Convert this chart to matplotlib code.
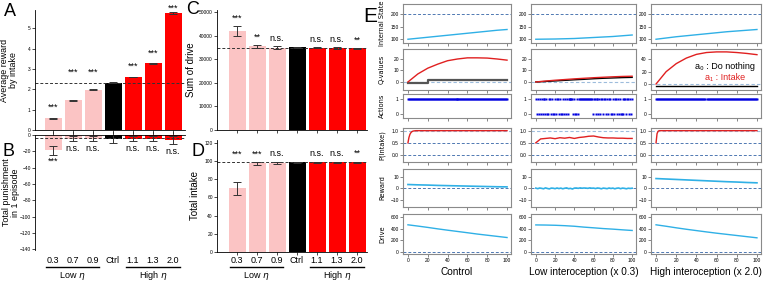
import matplotlib
matplotlib.use("Agg")
import matplotlib.pyplot as plt
from matplotlib.transforms import blended_transform_factory

plt.rcParams['font.family'] = ['Liberation Sans', 'DejaVu Sans']

W, H = 767, 281

# ---------------- data: bar panels ----------------
conds = ["0.3", "0.7", "0.9", "Ctrl", "1.1", "1.3", "2.0"]
bar_colors = ["#fbc4c4", "#fbc4c4", "#fbc4c4", "#000000", "#ff0000", "#ff0000", "#ff0000"]

rew_mean = [0.57, 1.47, 1.99, 2.32, 2.61, 3.27, 5.75]
rew_err = [0.03, 0.02, 0.02, 0.02, 0.02, 0.02, 0.03]
rew_ref = 2.33
rew_sig = ["***", "***", "***", "", "***", "***", "***"]

pun_mean = [-19, -4.5, -4.5, -5, -4.5, -4.5, -6.5]
pun_err = [5, 3, 3, 5, 3, 3, 5]
pun_ref = -4
pun_sig = ["***", "n.s.", "n.s.", "", "n.s.", "n.s.", "n.s."]

drv_mean = [42000, 35500, 35000, 35100, 35000, 34800, 34700]
drv_err = [2000, 600, 500, 300, 300, 300, 300]
drv_ref = 35000
drv_sig = ["***", "**", "n.s.", "", "n.s.", "n.s.", "**"]

int_mean = [70, 97.5, 98, 99, 99, 99, 99]
int_err = [7, 1.5, 1.2, 0.5, 0.5, 0.5, 0.5]
int_ref = 99
int_sig = ["***", "***", "n.s.", "", "n.s.", "n.s.", "**"]

groups = ["Low $\\eta$", "High $\\eta$"]

# ---------------- data: simulation panels ----------------
col_titles = ["Control", "Low interoception (x 0.3)", "High interoception (x 2.0)"]
row_labels = ["Internal State", "Q-values", "Actions", "P(Intake)", "Reward", "Drive"]

t_a = [0, 10, 20, 30, 40, 50, 60, 70, 80, 90, 100]
state_ctrl = [100, 104, 108, 112, 116, 120, 124, 128, 132, 136, 139]
state_low = [100, 100.5, 101, 102, 103, 105, 107, 109, 111, 114, 117]
state_high = [100, 105, 110, 114, 118, 122, 126, 130, 133, 136, 139]
state_set = 200

q1_ctrl = [0, 7, 12, 15.5, 18.5, 20, 21, 21, 20.8, 20, 19]
q0_ctrl_t = [0, 20, 20, 100]
q0_ctrl = [-0.5, -0.5, 2, 2]
q1_low = [0, 0.8, 1.5, 2.1, 2.7, 3.2, 3.7, 4.1, 4.5, 4.8, 5.0]
q0_low = [0, 0.4, 0.9, 1.4, 1.9, 2.3, 2.8, 3.2, 3.5, 3.8, 4.0]
q1_high = [0, 20, 33, 42, 48, 51, 52, 52, 51, 49.5, 47.5]
q0_high = [-3, -3, -3, -3, -3, -3, -3, -3, -3, -3, -3]

act_ctrl = [1] * 101
act_low = [int(c) for c in (
    "101010" "1" "01101001101" "00" "10110100101" "01011" "111" "0100101"
    "1111111111111" "0110110101101101011" "00" "10110101" "00" "10110110101")]
act_high = [1] * 101

p_ctrl_t = [0, 1, 2, 3, 4, 5, 6, 8, 100]
p_ctrl = [0.5, 0.72, 0.85, 0.92, 0.96, 0.98, 0.99, 1.0, 1.0]
p_low_t = [0, 5, 10, 15, 20, 25, 30, 35, 40, 45, 50, 55, 60, 65, 70, 75, 80, 85, 90, 95, 100]
p_low = [0.5, 0.66, 0.68, 0.70, 0.67, 0.71, 0.69, 0.72, 0.68, 0.72, 0.74, 0.77,
         0.78, 0.74, 0.71, 0.70, 0.70, 0.69, 0.69, 0.68, 0.68]
p_high_t = [0, 1, 2, 3, 100]
p_high = [0.5, 0.88, 0.97, 1.0, 1.0]

rwd_ctrl = [3.5, 3.2, 3.0, 2.7, 2.5, 2.3, 2.1, 1.9, 1.7, 1.5, 1.4]
rwd_low = [0.3, -0.2, 0.4, 0.1, -0.3, 0.5, 0.0, -0.4, 0.3, 0.2, -0.2, 0.4, -0.1,
           0.3, -0.3, 0.2, 0.5, -0.2, 0.1, -0.5, 0.3, 0.4, 0.1, 0.5, 0.2, 0.4,
           0.3, 0.1, 0.5, 0.2, 0.3, -0.1, 0.4, 0.2, -0.3, 0.3, 0.1, -0.2, 0.4,
           0.0, 0.3, -0.3, 0.2, 0.4, -0.2, 0.3, 0.1, -0.3, 0.2, 0.0, 0.2]
rwd_high = [8.8, 8.4, 8.0, 7.6, 7.2, 6.8, 6.4, 6.0, 5.7, 5.3, 5.0]

drive_ctrl = [470, 448, 425, 400, 377, 355, 333, 310, 290, 270, 250]
drive_low = [468, 466, 462, 455, 445, 430, 418, 405, 395, 383, 372]
drive_high = [470, 445, 418, 393, 370, 347, 325, 305, 285, 265, 245]

LINE = "#2fb0e6"
DASH_M = "#4f78b2"
DASH_L = "#9dbcdc"


def rect(l, t, r, b):
    return [l / W, 1 - b / H, (r - l) / W, (b - t) / H]


fig = plt.figure(figsize=(W / 100, H / 100), dpi=100)

xs = list(range(len(conds)))


def style_bar_axes(ax):
    for s in ["right", "top"]:
        ax.spines[s].set_visible(False)
    for s in ["left", "bottom"]:
        ax.spines[s].set_linewidth(0.6)
    ax.tick_params(axis='y', labelsize=3.5, length=2, width=0.5, pad=1)
    ax.tick_params(axis='x', length=2, width=0.5)


def draw_bars(ax, means, errs, ref):
    ax.bar(xs, means, width=0.85, color=bar_colors, linewidth=0)
    ax.errorbar(xs, means, yerr=errs, fmt='none', ecolor='#333333',
                elinewidth=0.7, capsize=3, capthick=0.7)
    ax.axhline(ref, ls='--', color='#333333', lw=0.7, dashes=(3, 2))


# Panel A
axA = fig.add_axes(rect(35, 10, 185, 130))
draw_bars(axA, rew_mean, rew_err, rew_ref)
axA.set_xlim(-0.9, 6.6)
axA.set_ylim(0, 5.9)
axA.set_yticks([0, 1, 2, 3, 4, 5])
axA.set_xticks(xs)
axA.set_xticklabels([])
style_bar_axes(axA)
for x, m, e, s in zip(xs, rew_mean, rew_err, rew_sig):
    y = m + e + 0.5
    if abs(y - rew_ref) < 0.35:
        y = rew_ref + 0.5
    y = min(y, 5.98)
    axA.text(x, y, s, ha='center', va='center', fontsize=6.5, clip_on=False)
axA.set_ylabel("Average reward\nby intake", fontsize=6.4, linespacing=1.0)
axA.yaxis.set_label_coords(-0.11, 0.5)

# Panel B
axB = fig.add_axes(rect(35, 135, 185, 250))
draw_bars(axB, pun_mean, pun_err, pun_ref)
axB.set_xlim(-0.9, 6.6)
axB.set_ylim(-141, 0)
axB.set_yticks(list(range(-140, 1, 20)))
axB.set_xticks(xs)
axB.set_xticklabels(conds, fontsize=6.5)
for s in ["right", "bottom"]:
    axB.spines[s].set_visible(False)
for s in ["left", "top"]:
    axB.spines[s].set_linewidth(0.6)
axB.tick_params(axis='y', labelsize=3.5, length=2, width=0.5, pad=1)
axB.tick_params(axis='x', top=True, bottom=False, labeltop=False, labelbottom=True,
                length=2, width=0.5, pad=2.5)
for x, m, e, s in zip(xs, pun_mean, pun_err, pun_sig):
    axB.text(x, m - e - 3, s, ha='center', va='top', fontsize=6.5)
axB.set_ylabel("Total punishment\nin 1 episode", fontsize=6.4, linespacing=1.0)
axB.yaxis.set_label_coords(-0.1, 0.5)

# Panel C
axC = fig.add_axes(rect(217, 10, 367, 130))
draw_bars(axC, drv_mean, drv_err, drv_ref)
axC.set_xlim(-1, 6.5)
axC.set_ylim(0, 51000)
axC.set_yticks([0, 10000, 20000, 30000, 40000, 50000])
axC.set_xticks(xs)
axC.set_xticklabels([])
style_bar_axes(axC)
for x, m, e, s in zip(xs, drv_mean, drv_err, drv_sig):
    y = max(m + e, drv_ref) + 3300
    axC.text(x, y, s, ha='center', va='center', fontsize=6.5)
axC.set_ylabel("Sum of drive", fontsize=7)
axC.yaxis.set_label_coords(-0.14, 0.5)

# Panel D
axD = fig.add_axes(rect(217, 140, 367, 252))
draw_bars(axD, int_mean, int_err, int_ref)
axD.set_xlim(-1, 6.5)
axD.set_ylim(0, 123.3)
axD.set_yticks([0, 20, 40, 60, 80, 100, 120])
axD.set_xticks(xs)
axD.set_xticklabels(conds, fontsize=6.5)
style_bar_axes(axD)
axD.tick_params(axis='x', pad=1)
for x, m, e, s in zip(xs, int_mean, int_err, int_sig):
    y = max(m + e, int_ref) + 9
    axD.text(x, y, s, ha='center', va='center', fontsize=6.5)
axD.set_ylabel("Total intake", fontsize=7)
axD.yaxis.set_label_coords(-0.115, 0.5)

# group underlines (pixel rows 267 / 276)
for ax, bottom_px, height_px in [(axB, 250, 115), (axD, 252, 112)]:
    yl = (bottom_px - 267) / height_px
    yt = (bottom_px - 276) / height_px
    tr = blended_transform_factory(ax.transData, ax.transAxes)
    for (x0, x1), g in zip([(-0.35, 2.3), (3.65, 6.35)], groups):
        ax.plot([x0, x1], [yl, yl], color='black', lw=1.0, transform=tr, clip_on=False)
        ax.text((x0 + x1) / 2, yt, g, ha='center', va='center', fontsize=6.5,
                transform=tr)

# ---------------- Panel E ----------------
cols = [(403, 511), (531, 636), (651, 761)]
rows = [(4, 43), (49, 90), (94, 118), (128, 162), (169, 207), (214, 254)]

states = [state_ctrl, state_low, state_high]
q1s = [q1_ctrl, q1_low, q1_high]
q0s = [(q0_ctrl_t, q0_ctrl), (t_a, q0_low), (t_a, q0_high)]
acts = [act_ctrl, act_low, act_high]
ps = [(p_ctrl_t, p_ctrl), (p_low_t, p_low), (p_high_t, p_high)]
rwds = [(t_a, rwd_ctrl), (list(range(0, 2 * len(rwd_low), 2)), rwd_low), (t_a, rwd_high)]
drives = [drive_ctrl, drive_low, drive_high]

for c, (l, r) in enumerate(cols):
    for ri, (t, b) in enumerate(rows):
        ax = fig.add_axes(rect(l, t, r, b))
        for s in ax.spines.values():
            s.set_color('#8a8a8a')
            s.set_linewidth(0.8)
        ax.tick_params(labelsize=3.5, length=2, width=0.5, color='#555555', pad=1)
        ax.set_xlim(-5, 104)
        ax.set_xticks([0, 20, 40, 60, 80, 100])
        if ri < 5:
            ax.set_xticklabels([])
        if ri == 0:
            ax.plot(t_a, states[c], color=LINE, lw=1.0)
            ax.axhline(state_set, ls='--', color=DASH_M, lw=0.7, dashes=(3, 2))
            ax.set_ylim(85, 241)
            ax.set_yticks([100, 150, 200])
        elif ri == 1:
            ax.axhline(0, ls='--', color=DASH_L, lw=0.8, dashes=(3, 2))
            tq, q0 = q0s[c]
            ax.plot(tq, q0, color='#555555' if c == 0 else 'black', lw=1.6 if c == 0 else 1.0)
            ax.plot(t_a, q1s[c], color='#e02020', lw=1.0)
            if c == 2:
                ax.set_ylim(-9.7, 56.7)
                ax.set_yticks([0, 20, 40])
                ax.text(0.67, 0.585, "a₀ : Do nothing", transform=ax.transAxes,
                        ha='center', va='center', fontsize=6.5, color='black')
                ax.text(0.67, 0.317, "a₁ : Intake", transform=ax.transAxes,
                        ha='center', va='center', fontsize=6.5, color='#e02020')
            else:
                ax.set_ylim(-7, 28.7)
                ax.set_yticks([0, 10, 20])
        elif ri == 2:
            a = acts[c]
            ax.plot(list(range(len(a))), a, 's', ms=1.8, color='#0000e0', mec='none')
            ax.set_ylim(-0.27, 1.33)
            ax.set_yticks([0, 1])
        elif ri == 3:
            tp, p = ps[c]
            ax.axhline(1.0, ls='--', color=DASH_L, lw=0.8, dashes=(3, 2))
            ax.axhline(0.5, ls='--', color=DASH_M, lw=0.7, dashes=(3, 2))
            ax.axhline(0.0, ls='--', color=DASH_M, lw=0.7, dashes=(3, 2))
            ax.plot(tp, p, color='#e02020', lw=1.0)
            ax.set_ylim(-0.29, 1.11)
            ax.set_yticks([0.0, 0.5, 1.0])
        elif ri == 4:
            tr_, rw = rwds[c]
            ax.axhline(0, ls='--', color=DASH_M, lw=0.7, dashes=(3, 2))
            ax.plot(tr_, rw, color=LINE, lw=1.2)
            ax.set_ylim(-16.5, 17.3)
            ax.set_yticks([-10, 0, 10])
        else:
            ax.axhline(0, ls='--', color=DASH_M, lw=0.7, dashes=(3, 2))
            ax.plot(t_a, drives[c], color=LINE, lw=1.0)
            ax.set_ylim(-35, 657)
            ax.set_yticks([0, 200, 400, 600])
        if c == 0:
            ax.set_ylabel(row_labels[ri], fontsize=4.8, family=['DejaVu Sans'])
            ax.yaxis.set_label_coords(-18 / 108, 0.5)
    fig.text((l + r) / 2 / W, 1 - 272 / H, col_titles[c], ha='center', va='center',
             fontsize=7.2)

# panel letters
for lab, x, y, fs in [("A", 10, 11, 13), ("B", 9, 151, 13), ("C", 193, 10, 13),
                      ("D", 198, 152, 13), ("E", 370, 16, 15)]:
    fig.text(x / W, 1 - y / H, lab, ha='center', va='center', fontsize=fs)

fig.savefig("out.png", dpi=100)
